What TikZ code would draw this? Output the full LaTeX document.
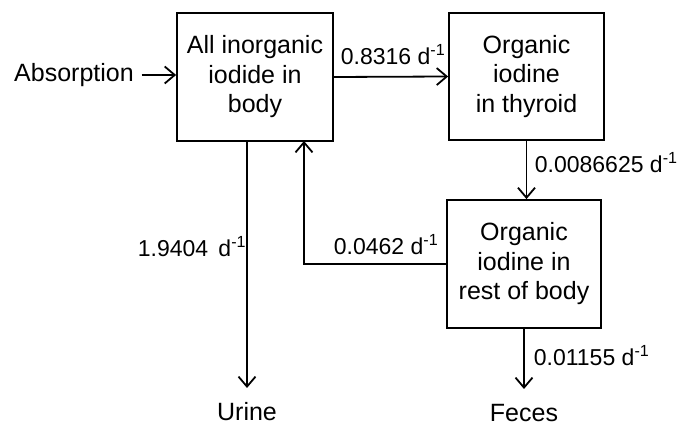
\documentclass[tikz,border=0pt]{standalone}
\usepackage{fontspec}
\setmainfont{Liberation Sans}
\usetikzlibrary{arrows.meta}
\newcommand{\perday}{d\textsuperscript{-1}}
\begin{document}
\begin{tikzpicture}[x=1pt,y=-1pt,
  line width=1.8pt,
  >={Straight Barb[length=10pt,width=17pt,line width=1.8pt]},
  box/.style={draw, line width=1.8pt, inner sep=0pt, align=center,
    font=\fontsize{25}{29.5}\selectfont},
  txt/.style={font=\fontsize{25}{29.5}\selectfont, inner sep=0pt},
  lbl/.style={font=\fontsize{23}{27}\selectfont, inner sep=0pt, anchor=west}]
\useasboundingbox (0,0) rectangle (678,427);
\node[box, minimum width=156pt, minimum height=128pt] (b1) at (255,77)
  {All inorganic\\iodide in\\body};
\node[box, minimum width=155pt, minimum height=127pt] (b2) at (526.5,76.5)
  {Organic\\iodine\\in thyroid};
\node[box, minimum width=154pt, minimum height=128pt] (b3) at (524,264)
  {Organic\\iodine in\\rest of body};
\node[txt] (abs) at (74,75) {Absorption};
\node[txt] (urine) at (247,412) {Urine};
\node[txt] (feces) at (524,413) {Feces};
\coordinate (uend) at (247,388);
\coordinate (uout) at (247,141);
\coordinate (fbin) at (304,141);
\coordinate (fend) at (524,389);
\draw[->] (abs.east) ++(7,0) -- (b1.west |- abs.east);
\draw[->] (b1.east) -- (b2.west);
\draw[->] (b2.south) -- (b2.south |- b3.north);
\draw[->] (uout) -- (uend);
\draw[->] (b3.west) -| (fbin);
\draw[->] (b3.south) -- (fend);
\node[lbl] (l1) at (340,55) {0.8316 \perday};
\node[lbl] (l2) at (534,163) {0.0086625 \perday};
\node[lbl] (l3) at (137,247) {1.9404 \,\perday};
\node[lbl] (l4) at (333,245) {0.0462 \perday};
\node[lbl] (l5) at (533,356) {0.01155 \perday};
\end{tikzpicture}
\end{document}
